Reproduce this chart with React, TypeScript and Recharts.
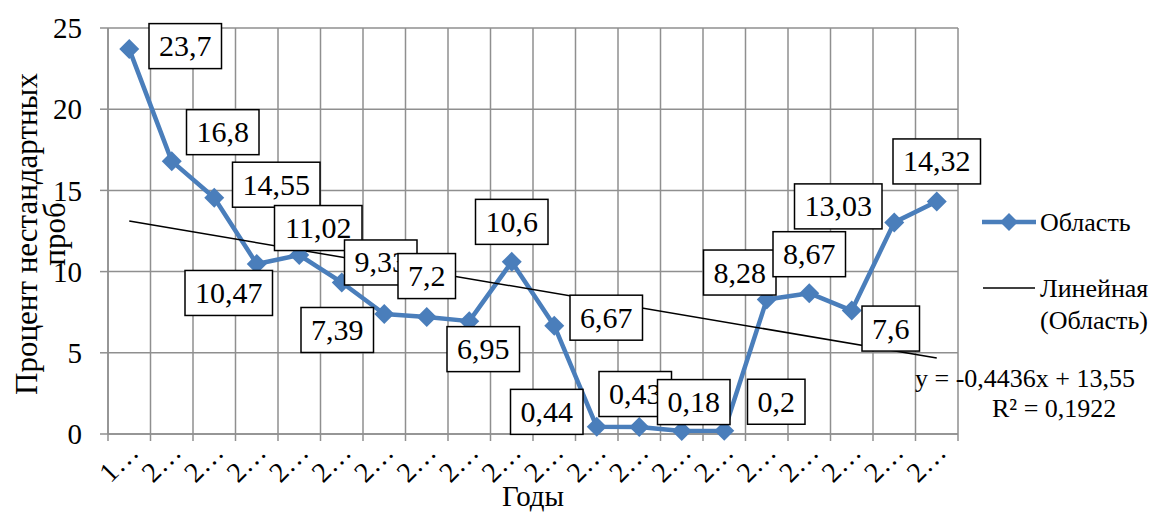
import { LineChart, Line, XAxis, YAxis, CartesianGrid, LabelList, Legend } from 'recharts';

// chart values
const years = ['1…', '2…', '2…', '2…', '2…', '2…', '2…', '2…', '2…', '2…', '2…', '2…', '2…', '2…', '2…', '2…', '2…', '2…', '2…', '2…'];
const values = [23.7, 16.8, 14.55, 10.47, 11.02, 9.33, 7.39, 7.2, 6.95, 10.6, 6.67, 0.44, 0.43, 0.18, 0.2, 8.28, 8.67, 7.6, 13.03, 14.32];
const trendEnds = [13.11, 4.68];
const yTicks = [0, 5, 10, 15, 20, 25];

const data = values.map((v, i) => ({
  i: i + 1,
  year: years[i],
  value: v,
  trend: i === 0 ? trendEnds[0] : i === values.length - 1 ? trendEnds[1] : null,
}));

const centerTicks = data.map((d) => d.i);
const edgeTicks = [0.5, ...data.map((d) => d.i + 0.5)];

// where each data label box sits relative to its point (Excel's auto placement)
const labelShift: [number, number][] = [
  [56, -3], [51, -29], [62, -13], [-28, 29], [19, -27], [39, -20], [-47, 16], [0, -41],
  [14, 28], [0, -40], [52, -8], [-50, -15], [-4, -33], [12, -29], [52, -29], [-27, -27],
  [0, -39], [39, 18], [-56, -16], [0, -40],
];

const FONT = "'Liberation Serif', Tinos, 'Times New Roman', 'DejaVu Serif', 'Noto Serif', serif";
const txtStyle = { fontFamily: FONT };
const BLUE = '#4a7ebb';
const GRID = '#8f8f8f';

const fmt = (v: number) => String(v).replace('.', ',');

const Diamond = ({ cx, cy }: any) => {
  if (cx == null || cy == null) return null;
  return <polygon points={`${cx},${cy - 10} ${cx + 10},${cy} ${cx},${cy + 10} ${cx - 10},${cy}`} fill={BLUE} />;
};

const DataBox = (props: any) => {
  const { x, y, value, index } = props;
  const [dx, dy] = labelShift[index] || [0, -30];
  const txt = fmt(value);
  const w = txt.split('').reduce((s, c) => s + (c === ',' ? 7.5 : 15), 0) + 20;
  const h = 45;
  const cx = x + dx;
  const cy = y + dy;
  return (
    <g>
      <rect x={cx - w / 2} y={cy - h / 2} width={w} height={h} fill="#fff" stroke="#000" strokeWidth={1.5} />
      <text x={cx} y={cy + 10} textAnchor="middle" style={txtStyle} fontSize={30} fill="#000">
        {txt}
      </text>
    </g>
  );
};

const YearTick = ({ x, y, payload }: any) => {
  const tx = x + 11;
  const ty = y + 4;
  return (
    <text x={tx} y={ty} transform={`rotate(-45 ${tx} ${ty})`} textAnchor="end" style={txtStyle} fontSize={28} fill="#000">
      {years[payload.value - 1]}
    </text>
  );
};

const YTitle = ({ viewBox }: any) => {
  const cy = viewBox.y + viewBox.height / 2 + 3;
  return (
    <g fontSize={31} fill="#000">
      <text x={37} y={cy} transform={`rotate(-90 37 ${cy})`} textAnchor="middle" style={txtStyle}>Процент нестандартных</text>
      <text x={65} y={cy} transform={`rotate(-90 65 ${cy})`} textAnchor="middle" style={txtStyle}>проб</text>
    </g>
  );
};

const XTitle = ({ viewBox }: any) => (
  <text x={viewBox.x + viewBox.width / 2} y={viewBox.y + 64} textAnchor="middle" style={txtStyle} fontSize={29} fill="#000">
    Годы
  </text>
);

const LegendBox = () => (
  <svg width={269} height={240} style={{ display: 'block', overflow: 'visible' }}>
    <g fontSize={26} fill="#000">
      <line x1={82} y1={32} x2={136} y2={32} stroke={BLUE} strokeWidth={4.5} />
      <polygon points="109,23 118,32 109,41 100,32" fill={BLUE} />
      <text x={140} y={41} style={txtStyle}>Область</text>
      <line x1={83} y1={98} x2={135} y2={98} stroke="#000" strokeWidth={1.5} />
      <text x={140} y={107} style={txtStyle}>Линейная</text>
      <text x={140} y={139} style={txtStyle}>(Область)</text>
      <text x={15} y={197} style={txtStyle}>y = -0,4436x + 13,55</text>
      <text x={92} y={227} style={txtStyle}>R² = 0,1922</text>
    </g>
  </svg>
);

export default function App() {
  return (
    <div style={{ position: 'absolute', left: 0, top: 0, width: 1169, height: 512, background: '#fff', fontFamily: FONT }}>
      <LineChart width={1169} height={512} data={data} margin={{ top: 28, right: 211, bottom: 0, left: 0 }} style={txtStyle}>
        <CartesianGrid xAxisId="grid" yAxisId="y" stroke={GRID} strokeWidth={1.5} />
        <XAxis
          xAxisId="grid"
          type="number"
          dataKey="i"
          domain={[0.5, 20.5]}
          ticks={edgeTicks}
          interval={0}
          height={8}
          tickSize={7}
          axisLine={{ stroke: GRID, strokeWidth: 1.5 }}
          tickLine={{ stroke: GRID, strokeWidth: 1.5 }}
          tickFormatter={() => ''}
        />
        <XAxis
          xAxisId="lab"
          type="number"
          dataKey="i"
          domain={[0.5, 20.5]}
          ticks={centerTicks}
          interval={0}
          height={70}
          axisLine={false}
          tickLine={false}
          tick={<YearTick />}
          label={<XTitle />}
        />
        <YAxis
          yAxisId="y"
          domain={[0, 25]}
          ticks={yTicks}
          width={108}
          tickSize={8}
          tickMargin={18}
          axisLine={{ stroke: GRID, strokeWidth: 1.5 }}
          tickLine={{ stroke: GRID, strokeWidth: 1.5 }}
          tick={{ fill: '#000', fontSize: 29, style: txtStyle }}
          label={<YTitle />}
        />
        <Line
          xAxisId="lab"
          yAxisId="y"
          dataKey="value"
          name="Область"
          stroke={BLUE}
          strokeWidth={4.5}
          strokeLinejoin="round"
          dot={(p: any) => <Diamond key={p.index} {...p} />}
          activeDot={false}
          isAnimationActive={false}
        >
          <LabelList dataKey="value" content={<DataBox />} />
        </Line>
        <Line
          xAxisId="lab"
          yAxisId="y"
          dataKey="trend"
          name="Линейная (Область)"
          connectNulls
          stroke="#000"
          strokeWidth={1.5}
          dot={false}
          activeDot={false}
          isAnimationActive={false}
        />
        <Legend
          layout="horizontal"
          verticalAlign="middle"
          align="center"
          content={<LegendBox />}
          wrapperStyle={{ left: 900, top: 190, width: 269, height: 240 }}
        />
      </LineChart>
    </div>
  );
}
